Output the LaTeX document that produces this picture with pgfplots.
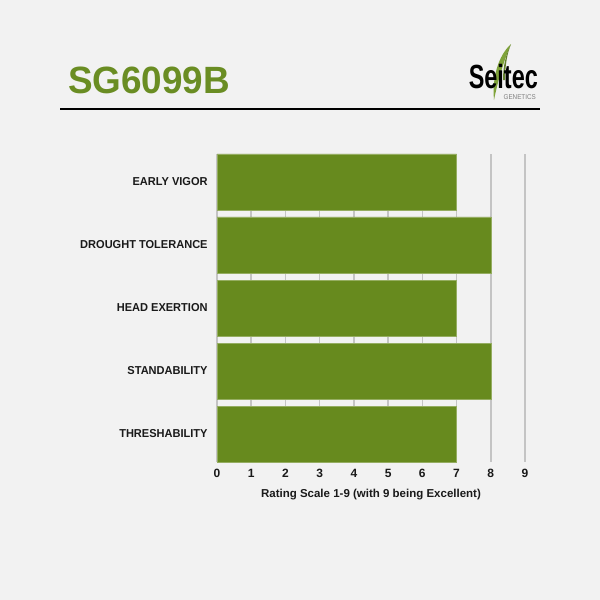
\documentclass[border=0pt]{standalone}
\usepackage{fontspec}
\setmainfont{Liberation Sans}
\usepackage{pgfplots}
\pgfplotsset{compat=1.18}
\definecolor{bg}{HTML}{F2F2F2}
\definecolor{bargreen}{HTML}{678A1E}
\definecolor{titlegreen}{HTML}{6A8D23}
\definecolor{leafgreen}{HTML}{7FA33A}
\definecolor{gridgray}{HTML}{C4C4C4}
\definecolor{labelblack}{HTML}{1A1A1A}
\begin{document}
\begin{tikzpicture}[x=1pt,y=1pt]
\fill[bg] (0,0) rectangle (600,-600);
% title
\node[anchor=base west, text=titlegreen, font=\fontsize{38}{38}\selectfont\bfseries, xscale=0.97, inner sep=0] at (68,-93) {SG6099B};
\draw[black, line width=2pt] (60,-109) -- (540,-109);
% logo leaf
\fill[leafgreen] (511,-44) .. controls (498,-56) and (492,-78) .. (494,-100)
  .. controls (498,-80) and (504,-60) .. (511,-44) -- cycle;
\fill[leafgreen!80!black] (511,-44) .. controls (506,-54) and (503,-66) .. (503,-80) -- (505,-80) .. controls (505,-66) and (507,-54) .. (511,-44) -- cycle;
\node[anchor=base east, text=black, font=\fontsize{33.5}{33.5}\selectfont\bfseries, xscale=0.7, inner sep=0] at (538,-88) {Seitec};
\node[anchor=base east, text=gray, font=\fontsize{7}{7}\selectfont, xscale=0.9, inner sep=0] at (536,-99.5) {GENETICS};
\begin{axis}[
  at={(217pt,-462pt)}, anchor=south west,
  scale only axis, width=308pt, height=308pt,
  xmin=0, xmax=9, ymin=-0.444, ymax=4.444,
  y dir=reverse,
  xbar, bar width=56pt,
  axis line style={draw=none},
  major tick length=0pt,
  xtick={0,1,...,9},
  ytick={0,1,2,3,4},
  yticklabels={EARLY VIGOR, DROUGHT TOLERANCE, HEAD EXERTION, STANDABILITY, THRESHABILITY},
  yticklabel style={font=\fontsize{11.5}{12}\selectfont\bfseries, text=labelblack, xshift=-6pt, xscale=0.96},
  xticklabel style={font=\fontsize{12}{12}\selectfont\bfseries, text=labelblack, yshift=-4pt},
  /pgf/number format/assume math mode=true,
  xmajorgrids, grid style={gridgray, line width=1.5pt},
  xlabel={Rating Scale 1-9 (with 9 being Excellent)},
  xlabel style={font=\fontsize{11.5}{12}\selectfont\bfseries, text=labelblack, yshift=-4pt},
  clip=false,
]
\addplot[fill=bargreen, draw=bargreen!70!white, line width=0.5pt] coordinates {(7,0) (8,1) (7,2) (8,3) (7,4)};
\end{axis}
\end{tikzpicture}
\end{document}
